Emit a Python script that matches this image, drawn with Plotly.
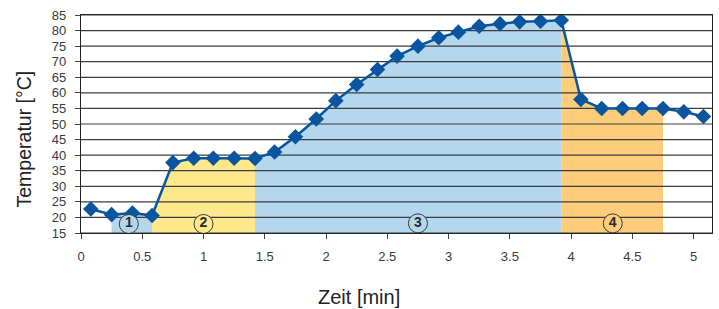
import plotly.graph_objects as go

# data
time_min = [0.08, 0.25, 0.42, 0.58, 0.75, 0.92, 1.08, 1.25, 1.42, 1.58, 1.75, 1.92,
            2.08, 2.25, 2.42, 2.58, 2.75, 2.92, 3.08, 3.25, 3.42, 3.58, 3.75, 3.92,
            4.08, 4.25, 4.42, 4.58, 4.75, 4.92, 5.08]
temp_c = [22.7, 20.9, 21.4, 20.6, 37.6, 39.0, 39.0, 39.0, 38.9, 41.0, 45.9, 51.6,
          57.5, 62.7, 67.5, 71.8, 75.0, 77.7, 79.5, 81.4, 82.2, 82.8, 83.0, 83.3,
          57.9, 55.0, 55.0, 55.0, 55.0, 53.9, 52.4]

# phases: (start index, end index) into the series, colour, label
phase_labels = ["1", "2", "3", "4"]
phase_start = [1, 3, 8, 23]
phase_end = [3, 8, 23, 28]
phase_colors = ["#b5d7ee", "#fde98c", "#b5d7ee", "#fdcd7b"]
label_x = [0.39, 1.0, 2.75, 4.34]
label_y = [17.9, 17.9, 18.1, 18.1]

y_ticks = list(range(15, 90, 5))
x_ticks = [0, 0.5, 1, 1.5, 2, 2.5, 3, 3.5, 4, 4.5, 5]
x_tick_text = ["0", "0.5", "1", "1.5", "2", "2.5", "3", "3.5", "4", "4.5", "5"]
X_MAX = 5.15

FONT = "Liberation Sans"
LINE_BLUE = "#0a55a0"

fig = go.Figure()

for s, e, c in zip(phase_start, phase_end, phase_colors):
    fig.add_trace(go.Scatter(
        x=time_min[s:e + 1], y=temp_c[s:e + 1], mode="none",
        fill="tozeroy", fillcolor=c, hoverinfo="skip", showlegend=False))

# grid lines over the shaded areas
gx, gy = [], []
for v in y_ticks:
    gx += [0, X_MAX, None]
    gy += [v, v, None]
fig.add_trace(go.Scatter(x=gx, y=gy, mode="lines",
                         line=dict(color="#3c3c3c", width=1.2),
                         hoverinfo="skip", showlegend=False))

fig.add_trace(go.Scatter(
    x=time_min, y=temp_c, mode="lines+markers",
    line=dict(color=LINE_BLUE, width=2.5),
    marker=dict(symbol="diamond", size=12, color=LINE_BLUE),
    showlegend=False))

fig.add_trace(go.Scatter(
    x=label_x, y=label_y, mode="markers+text",
    text=["<b>%s</b>" % t for t in phase_labels],
    textposition="middle center",
    textfont=dict(family=FONT, size=14, color="#2a2a2a"),
    marker=dict(symbol="circle", size=19, color=phase_colors,
                line=dict(color="#3a3a3a", width=1)),
    showlegend=False, hoverinfo="skip"))

fig.update_layout(
    width=719, height=309,
    margin=dict(l=81, r=7, t=15, b=76),
    paper_bgcolor="white", plot_bgcolor="white",
    font=dict(family=FONT, size=13, color="#3a3a3a"),
    showlegend=False,
)
fig.update_xaxes(
    range=[0, X_MAX], tickvals=x_ticks, ticktext=x_tick_text,
    showgrid=False, zeroline=False,
    showline=True, linecolor="#222", linewidth=1.2, mirror=True,
    ticks="outside", ticklen=5, tickcolor="#444",
    tickfont=dict(family=FONT, size=13, color="#3a3a3a"),
    ticklabelstandoff=6,
)
fig.update_yaxes(
    range=[15, 85], tickvals=y_ticks,
    showgrid=False, zeroline=False,
    showline=True, linecolor="#222", linewidth=1.2, mirror=True,
    ticks="outside", ticklen=5, tickcolor="#444",
    tickfont=dict(family=FONT, size=13, color="#3a3a3a"),
    ticklabelstandoff=6,
)

fig.add_annotation(text="Zeit [min]", xref="paper", yref="paper",
                   x=0.441, y=-0.295, xanchor="center", yanchor="middle",
                   showarrow=False, font=dict(family=FONT, size=20, color="#222"))
fig.add_annotation(text="Temperatur [°C]", xref="paper", yref="paper",
                   x=-0.090, y=0.43, xanchor="center", yanchor="middle",
                   textangle=-90, showarrow=False,
                   font=dict(family=FONT, size=19.5, color="#222"))

fig.write_html("out.html", config={"displayModeBar": False},
               post_script="document.body.style.margin='0';")
